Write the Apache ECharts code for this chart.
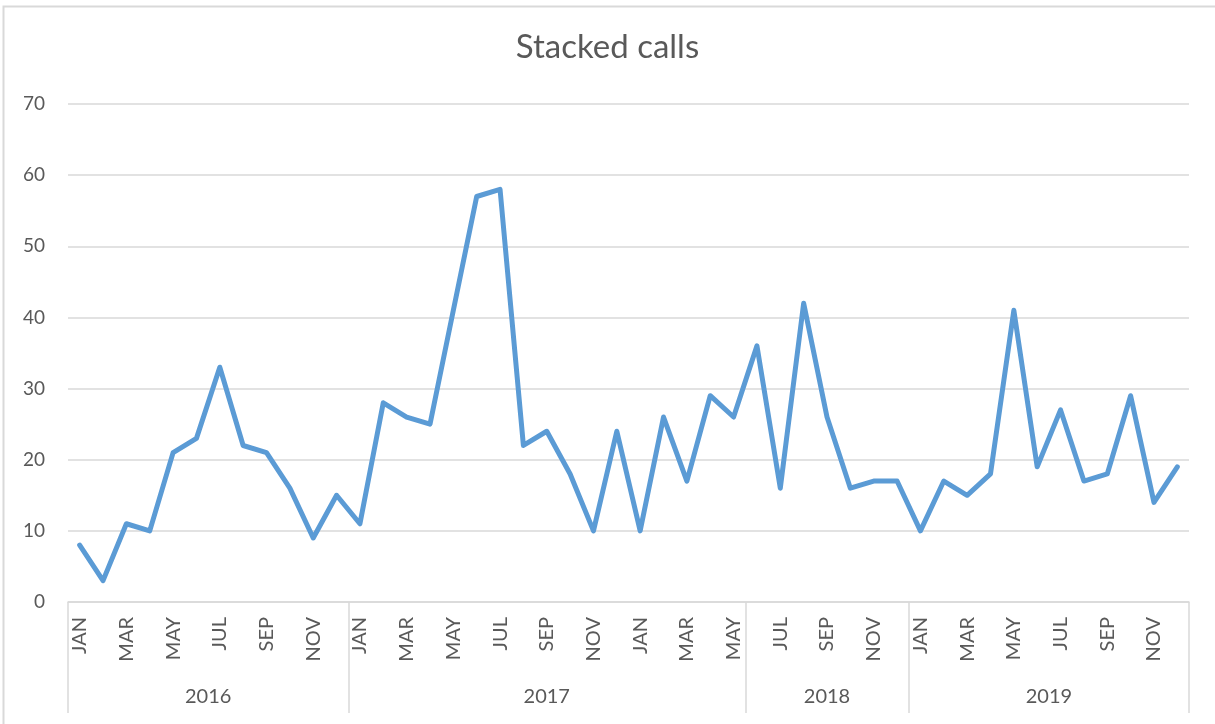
<!DOCTYPE html>
<html>
<head>
<meta charset="utf-8">
<script src="https://cdn.jsdelivr.net/npm/echarts@6/dist/echarts.min.js"></script>
<style>
  html, body { margin: 0; padding: 0; background: #fff; }
  #main { width: 1215px; height: 724px; }
</style>
</head>
<body>
<div id="main"></div>
<script>
// month names, and how each year group on the axis is made up
const monthNames = ['JAN', 'FEB', 'MAR', 'APR', 'MAY', 'JUN', 'JUL', 'AUG', 'SEP', 'OCT', 'NOV', 'DEC'];
const years = ['2016', '2017', '2018', '2019'];
const yearFirstMonth = [0, 0, 5, 0];
const yearLength = [12, 17, 7, 12];

// calls per month, in axis order
const calls2016 = [8, 3, 11, 10, 21, 23, 33, 22, 21, 16, 9, 15];
const calls2017 = [11, 28, 26, 25, 41, 57, 58, 22, 24, 18, 10, 24, 10, 26, 17, 29, 26];
const calls2018 = [36, 16, 42, 26, 16, 17, 17];
const calls2019 = [10, 17, 15, 18, 41, 19, 27, 17, 18, 29, 14, 19];

const yTicks = [0, 10, 20, 30, 40, 50, 60, 70];

const calls = [].concat(calls2016, calls2017, calls2018, calls2019);

// build the month categories and the year boundaries / centres
const categories = [];
const bounds = [0];
const centres = {};
years.forEach((y, i) => {
  const start = categories.length;
  for (let k = 0; k < yearLength[i]; k++) {
    categories.push(monthNames[(yearFirstMonth[i] + k) % 12]);
  }
  bounds.push(categories.length);
  centres[(start + categories.length) / 2] = y;
});

const grey = '#595959';
const lineGrey = '#d9d9d9';
const font = 'Lato, "Open Sans", sans-serif';

const chart = echarts.init(document.getElementById('main'), null, { renderer: 'canvas' });

chart.setOption({
  animation: false,
  backgroundColor: '#fff',
  title: {
    text: 'Stacked calls',
    left: 'center',
    top: 26,
    textStyle: { color: grey, fontFamily: font, fontWeight: 'normal', fontSize: 33 }
  },
  graphic: [{
    type: 'rect',
    shape: { x: 3.5, y: 6.5, width: 1300, height: 800 },
    style: { fill: 'none', stroke: lineGrey, lineWidth: 2 },
    silent: true
  }],
  grid: { left: 68, right: 26, top: 104, bottom: 122 },
  xAxis: [{
    type: 'category',
    data: categories,
    boundaryGap: true,
    axisLine: { lineStyle: { color: lineGrey, width: 1.5 } },
    axisTick: { show: false },
    axisLabel: {
      interval: 1,
      rotate: 90,
      margin: 15,
      color: grey,
      fontFamily: font,
      fontSize: 20
    }
  }, {
    type: 'value',
    position: 'bottom',
    min: 0,
    max: categories.length,
    splitLine: { show: false },
    axisLine: { show: false },
    axisTick: {
      show: true,
      length: 111,
      customValues: bounds,
      lineStyle: { color: lineGrey, width: 1.5 }
    },
    axisLabel: {
      customValues: Object.keys(centres).map(Number),
      formatter: v => centres[v] || '',
      margin: 85,
      color: grey,
      fontFamily: font,
      fontSize: 20
    }
  }],
  yAxis: {
    type: 'value',
    min: yTicks[0],
    max: yTicks[yTicks.length - 1],
    interval: 10,
    axisLine: { show: false },
    axisTick: { show: false },
    splitLine: { lineStyle: { color: lineGrey, width: 1.5 } },
    axisLabel: { color: grey, fontFamily: font, fontSize: 19, margin: 23 }
  },
  series: [{
    type: 'line',
    data: calls,
    xAxisIndex: 0,
    showSymbol: false,
    symbol: 'none',
    lineStyle: { color: '#5b9bd5', width: 5, join: 'round', cap: 'round' }
  }]
});
</script>
</body>
</html>
